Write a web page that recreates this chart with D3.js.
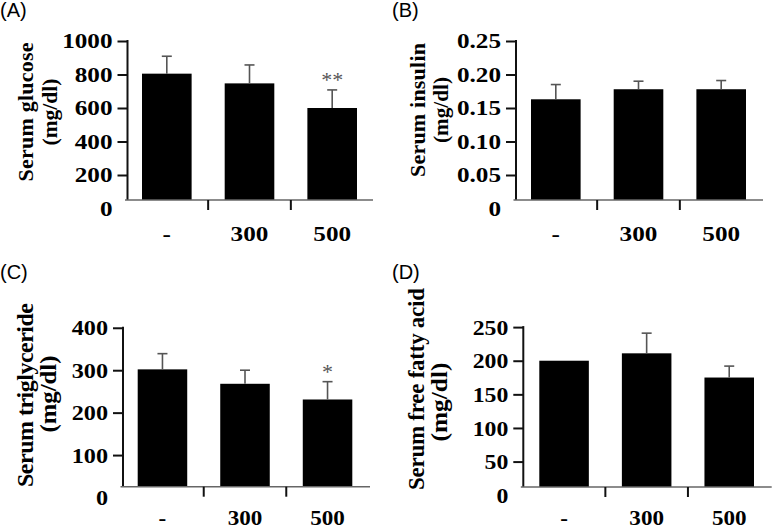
<!DOCTYPE html>
<html>
<head>
<meta charset="utf-8">
<script src="https://cdn.jsdelivr.net/npm/d3@7/dist/d3.min.js"></script>
<style>
  html, body { margin: 0; padding: 0; background: #fff; }
  svg { display: block; }
</style>
</head>
<body>
<svg id="chart" width="775" height="531"></svg>
<script>
// ---------------- DATA ----------------
const categories = ["-", "300", "500"];

const glucoseMean = [805, 747, 600];
const glucoseSD   = [104, 110, 108];
const glucoseTicks = [0, 200, 400, 600, 800, 1000];
const glucoseSig = ["", "", "**"];

const insulinMean = [0.163, 0.178, 0.178];
const insulinSD   = [0.022, 0.012, 0.013];
const insulinTicks = [0, 0.05, 0.10, 0.15, 0.20, 0.25];
const insulinTickLabels = ["0", "0.05", "0.10", "0.15", "0.20", "0.25"];
const insulinSig = ["", "", ""];

const tgMean = [302, 268, 231];
const tgSD   = [37, 32, 42];
const tgTicks = [0, 100, 200, 300, 400];
const tgSig = ["", "", "*"];

const ffaMean = [200, 211, 175];
const ffaSD   = [0, 30, 17];
const ffaTicks = [0, 50, 100, 150, 200, 250];
const ffaSig = ["", "", ""];

const panelLabels = ["(A)", "(B)", "(C)", "(D)"];
const titleLine1 = ["Serum glucose", "Serum insulin", "Serum triglyceride", "Serum free fatty acid"];
const titleLine2 = ["(mg/dl)", "(mg/dl)", "(mg/dl)", "(mg/dl)"];

// ---------------- LAYOUT ----------------
const panels = [
  { mean: glucoseMean, sd: glucoseSD, ticks: glucoseTicks, labels: glucoseTicks.map(String), sig: glucoseSig,
    ax: 127.5, top: 41, zero: 208.5, base: 200, right: 373, b0: 142, b1: 357,
    lx: 0, ly: 17, t1x: 33, t2x: 57, t1y: 112, t2y: 112, tfs: 22, len1: 139, len2: 67,
    tickFs: 21, stretch: 1.2, catY: 241, catFs: 21, catStretch: 1.2 },
  { mean: insulinMean, sd: insulinSD, ticks: insulinTicks, labels: insulinTickLabels, sig: insulinSig,
    ax: 516, top: 41, zero: 208.5, base: 200, right: 763, b0: 531, b1: 746,
    lx: 392, ly: 17, t1x: 425, t2x: 448, t1y: 110, t2y: 110, tfs: 22, len1: 134, len2: 66,
    tickFs: 21, stretch: 1.2, catY: 241, catFs: 21, catStretch: 1.2 },
  { mean: tgMean, sd: tgSD, ticks: tgTicks, labels: tgTicks.map(String), sig: tgSig,
    ax: 123, top: null, zero: 497.5, base: 486.7, right: 370, b0: 137.7, b1: 352.3,
    scaleSlope: 0.4243,
    lx: 0, ly: 279, t1x: 33, t2x: 56, t1y: 395, t2y: 394, tfs: 24, len1: 184, len2: 77,
    tickFs: 22, stretch: 1.1, catY: 525, catFs: 21, catStretch: 1.1 },
  { mean: ffaMean, sd: ffaSD, ticks: ffaTicks, labels: ffaTicks.map(String), sig: ffaSig,
    ax: 523.3, top: null, zero: 495.2, base: 487, right: 771.7, b0: 539.3, b1: 754,
    scaleSlope: 0.6724,
    lx: 392, ly: 279, t1x: 424, t2x: 447, t1y: 389, t2y: 402, tfs: 23, len1: 202, len2: 79,
    tickFs: 22, stretch: 1.08, catY: 525, catFs: 21, catStretch: 1.1 }
];

const svg = d3.select("#chart");
const serif = "'Liberation Serif', 'Times New Roman', 'DejaVu Serif', serif";
const sans = "'Liberation Sans', Arial, Helvetica, sans-serif";

panels.forEach((p, i) => {
  const g = svg.append("g");
  const maxT = d3.max(p.ticks);
  const topPx = p.top != null ? p.top : p.zero - p.scaleSlope * maxT;
  const y = d3.scaleLinear().domain([0, maxT]).range([p.zero, topPx]);
  const x = d3.scaleBand().domain(categories).range([p.b0, p.b1]).paddingInner(0.4).paddingOuter(0);
  const bw = x.bandwidth();

  // panel label
  g.append("text").attr("x", p.lx).attr("y", p.ly)
    .attr("font-family", sans).attr("font-size", 20).attr("fill", "#000")
    .text(panelLabels[i]);

  // y-axis titles (rotated)
  g.append("text")
    .attr("transform", `translate(${p.t1x},${p.t1y}) rotate(-90)`)
    .attr("text-anchor", "middle").attr("font-family", serif).attr("font-weight", "bold")
    .attr("font-size", p.tfs).attr("fill", "#000")
    .attr("textLength", p.len1).attr("lengthAdjust", "spacing")
    .text(titleLine1[i]);
  g.append("text")
    .attr("transform", `translate(${p.t2x},${p.t2y}) rotate(-90)`)
    .attr("text-anchor", "middle").attr("font-family", serif).attr("font-weight", "bold")
    .attr("font-size", p.tfs).attr("fill", "#000")
    .attr("textLength", p.len2).attr("lengthAdjust", "spacingAndGlyphs")
    .text(titleLine2[i]);

  // bars
  g.selectAll("rect.bar").data(categories).enter().append("rect")
    .attr("class", "bar")
    .attr("x", c => x(c))
    .attr("y", (c, k) => y(p.mean[k]))
    .attr("width", bw)
    .attr("height", (c, k) => p.base - y(p.mean[k]))
    .attr("fill", "#000");

  // error bars (upper only)
  categories.forEach((c, k) => {
    if (!p.sd[k]) return;
    const cx = x(c) + bw / 2;
    const y1 = y(p.mean[k]);
    const y2 = y(p.mean[k] + p.sd[k]);
    g.append("line").attr("x1", cx).attr("x2", cx).attr("y1", y1).attr("y2", y2)
      .attr("stroke", "#555").attr("stroke-width", 1.6);
    g.append("line").attr("x1", cx - 5).attr("x2", cx + 5).attr("y1", y2).attr("y2", y2)
      .attr("stroke", "#555").attr("stroke-width", 1.6);
    if (p.sig[k]) {
      g.append("text").attr("x", cx).attr("y", y2 - 3)
        .attr("text-anchor", "middle").attr("font-family", serif)
        .attr("font-size", 22).attr("fill", "#555").text(p.sig[k]);
    }
  });

  // y axis
  const yAxis = d3.axisLeft(y).tickValues(p.ticks).tickSize(10).tickSizeOuter(0)
    .tickFormat((d, k) => p.labels[k]);
  const ag = g.append("g").attr("transform", `translate(${p.ax},0)`).call(yAxis);
  ag.select(".domain").remove();
  ag.selectAll(".tick line").attr("stroke", "#111").attr("stroke-width", 2)
    .filter(d => d === 0).remove();
  ag.selectAll(".tick text")
    .attr("font-family", serif).attr("font-weight", "bold").attr("font-size", p.tickFs)
    .attr("fill", "#000")
    .attr("x", -15 / p.stretch)
    .attr("transform", `scale(${p.stretch},1)`);
  g.append("line").attr("x1", p.ax).attr("x2", p.ax).attr("y1", y(maxT) - 1).attr("y2", p.base)
    .attr("stroke", "#111").attr("stroke-width", 2);

  // x axis line
  g.append("line").attr("x1", p.ax - 2.5).attr("x2", p.right).attr("y1", p.base).attr("y2", p.base)
    .attr("stroke", "#666").attr("stroke-width", 1.5);

  // category separator ticks
  for (let k = 0; k < categories.length - 1; k++) {
    const mx = (x(categories[k]) + bw + x(categories[k + 1])) / 2;
    g.append("line").attr("x1", mx).attr("x2", mx).attr("y1", p.base).attr("y2", p.base + 10)
      .attr("stroke", "#111").attr("stroke-width", 2);
  }

  // category labels
  g.selectAll("text.cat").data(categories).enter().append("text")
    .attr("class", "cat")
    .attr("transform", c => `translate(${x(c) + bw / 2},${p.catY}) scale(${p.catStretch},1)`)
    .attr("text-anchor", "middle").attr("font-family", serif).attr("font-weight", "bold")
    .attr("font-size", p.catFs).attr("fill", "#000")
    .text(c => c);
});
</script>
</body>
</html>
